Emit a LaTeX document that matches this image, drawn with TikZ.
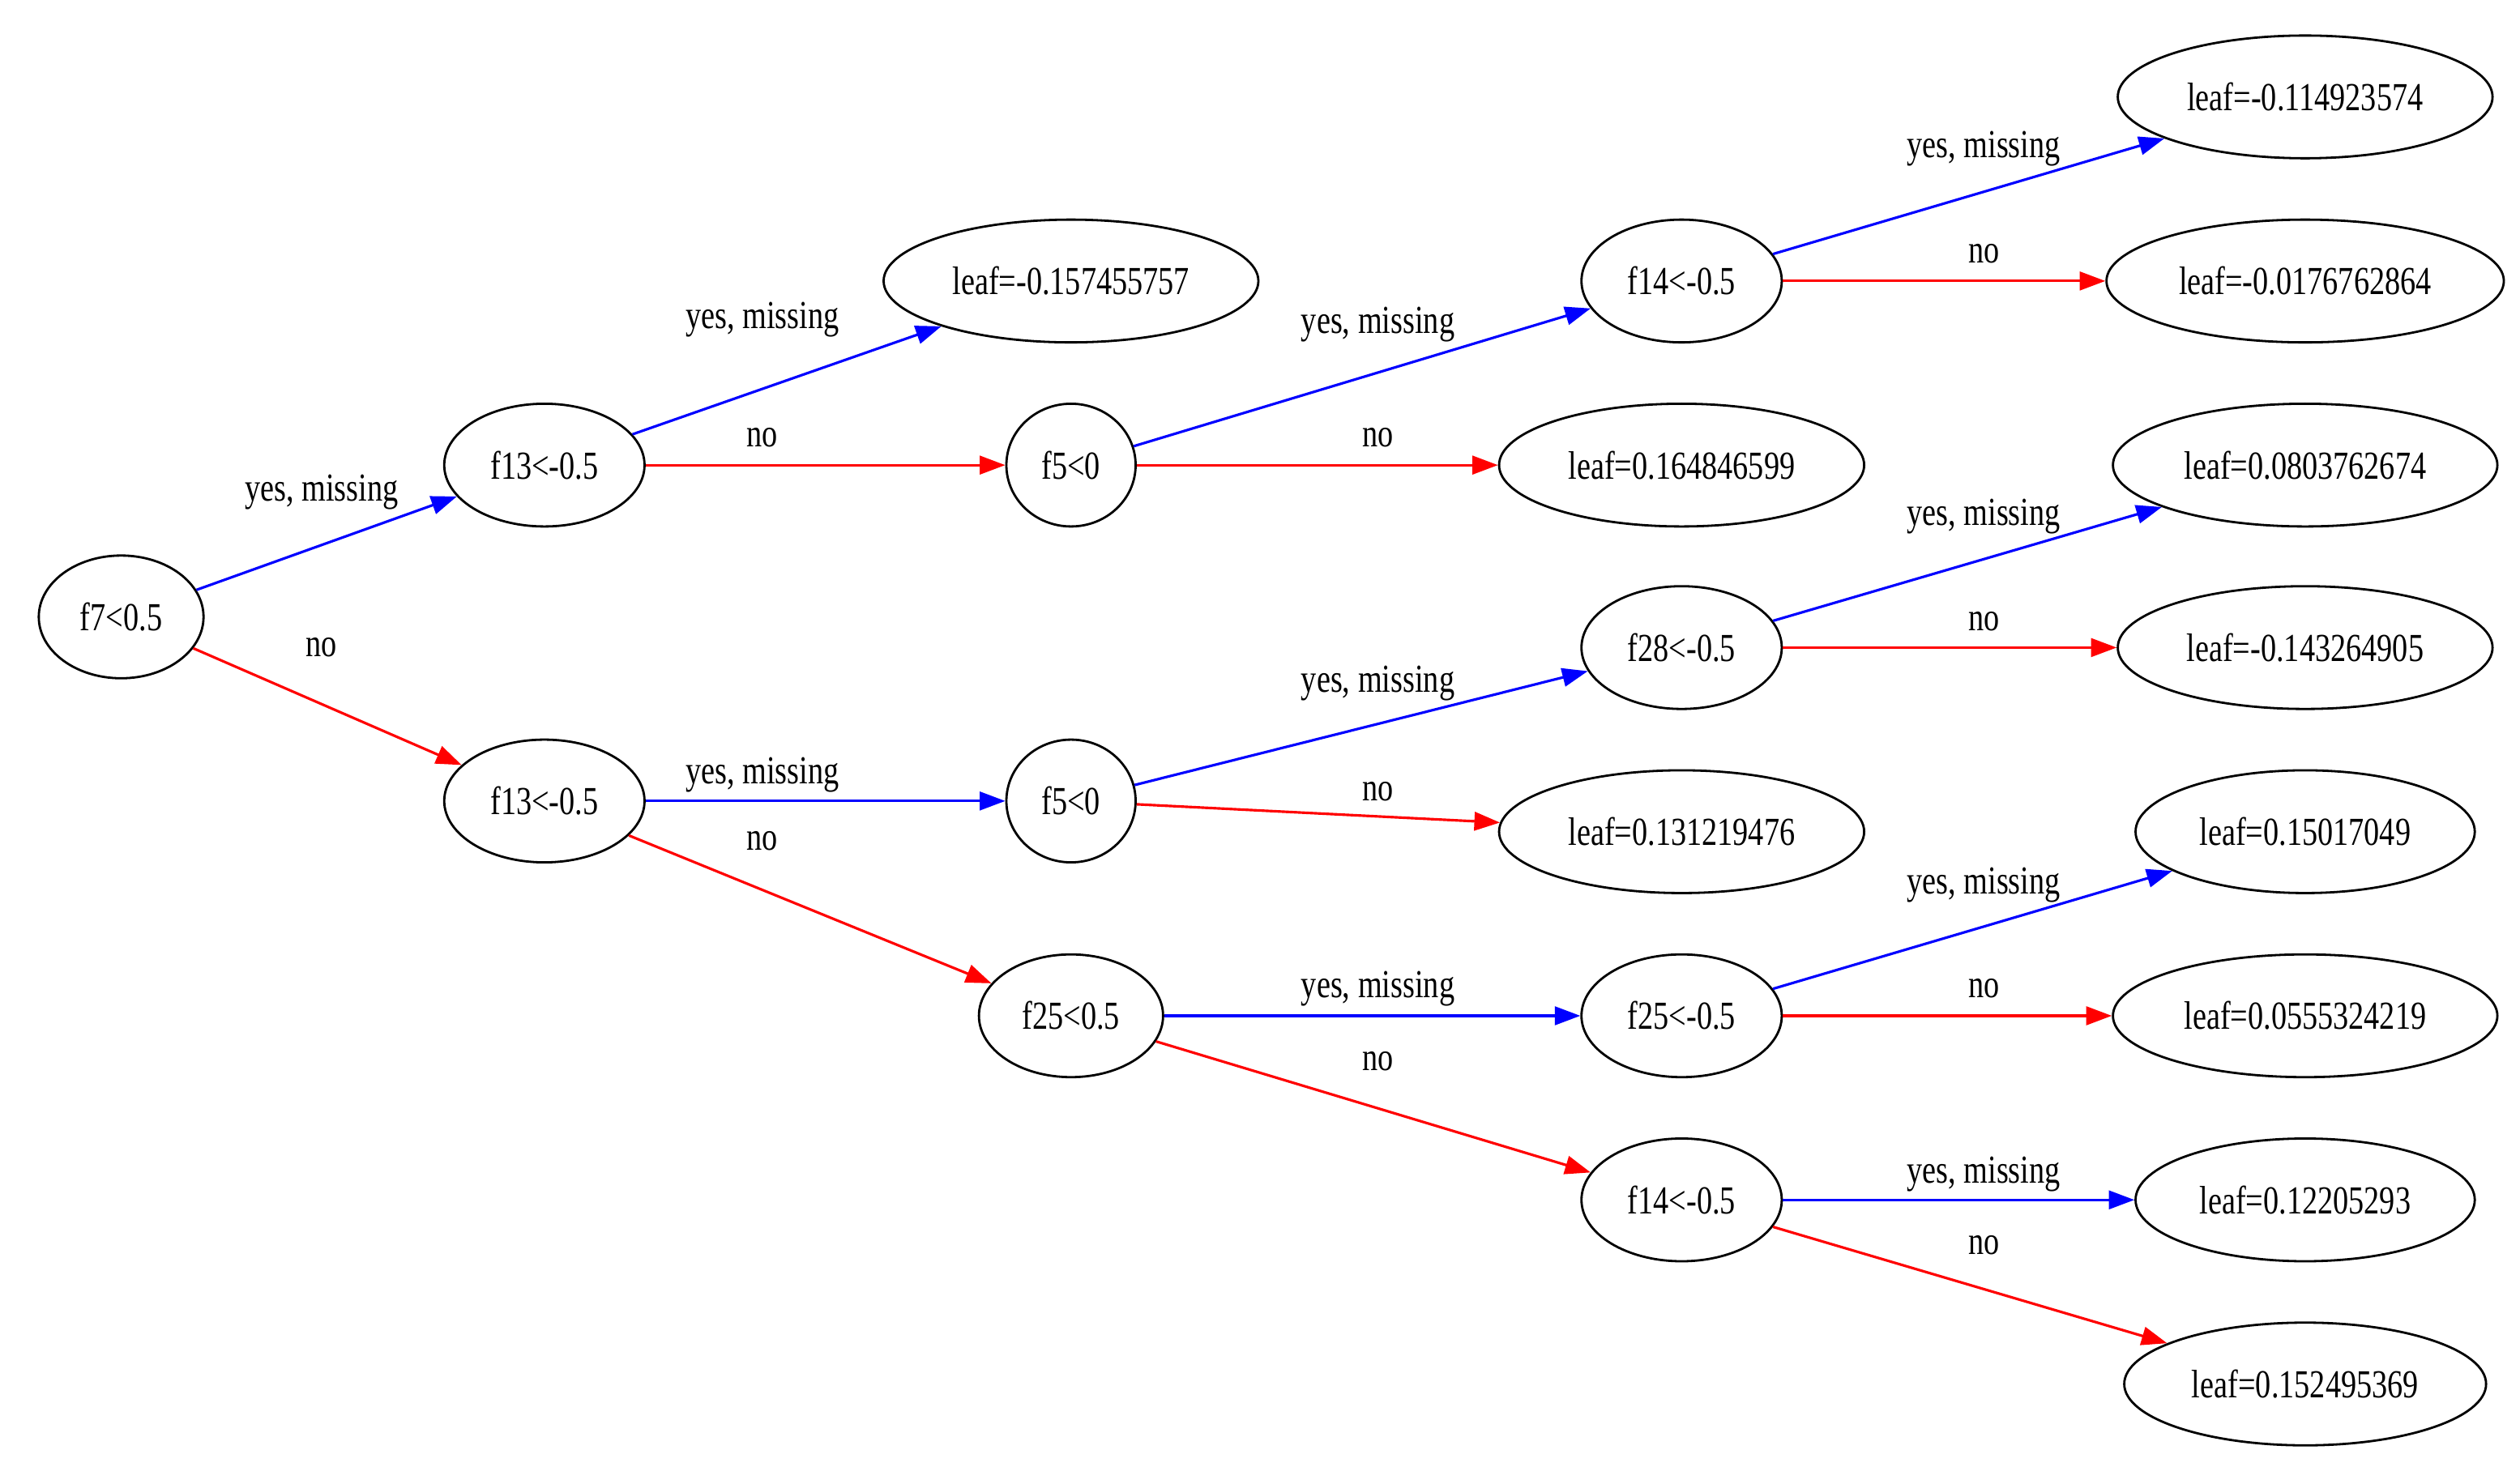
\documentclass[tikz,border=0pt]{standalone}
\usepackage{fontspec}
\setmainfont{Liberation Serif}[FakeStretch=0.78]
\usetikzlibrary{shapes.geometric,arrows.meta}
\begin{document}
\begin{tikzpicture}[x=0.04cm,y=-0.04cm,
 nd/.style={ellipse,draw,line width=1.6pt,minimum height=76*0.04cm,inner sep=0pt,font=\fontsize{28}{30}\selectfont},
 lb/.style={font=\fontsize{28}{30}\selectfont,inner sep=0pt},
 ye/.style={draw=blue,line width=1.8pt,-{Triangle[length=18pt,width=13pt]}},
 ne/.style={draw=red,line width=1.8pt,-{Triangle[length=18pt,width=13pt]}}]
\useasboundingbox (0,0) rectangle (1560,908);
\node[nd,minimum width=102*0.04cm] (r) at (75,382) {f7<0.5};
\node[nd,minimum width=124*0.04cm] (a) at (337,288) {f13<-0.5};
\node[nd,minimum width=124*0.04cm] (b) at (337,496) {f13<-0.5};
\node[nd,minimum width=232*0.04cm] (l1) at (663,174) {leaf=-0.157455757};
\node[nd,minimum width=80*0.04cm] (c) at (663,288) {f5<0};
\node[nd,minimum width=80*0.04cm] (d) at (663,496) {f5<0};
\node[nd,minimum width=114*0.04cm] (e) at (663,629) {f25<0.5};
\node[nd,minimum width=226*0.04cm] (l2) at (1041,288) {leaf=0.164846599};
\node[nd,minimum width=124*0.04cm] (f) at (1041,174) {f14<-0.5};
\node[nd,minimum width=124*0.04cm] (g) at (1041,401) {f28<-0.5};
\node[nd,minimum width=226*0.04cm] (l3) at (1041,515) {leaf=0.131219476};
\node[nd,minimum width=124*0.04cm] (h) at (1041,629) {f25<-0.5};
\node[nd,minimum width=124*0.04cm] (i) at (1041,743) {f14<-0.5};
\node[nd,minimum width=232*0.04cm] (m1) at (1427,60) {leaf=-0.114923574};
\node[nd,minimum width=246*0.04cm] (m2) at (1427,174) {leaf=-0.0176762864};
\node[nd,minimum width=238*0.04cm] (m3) at (1427,288) {leaf=0.0803762674};
\node[nd,minimum width=232*0.04cm] (m4) at (1427,401) {leaf=-0.143264905};
\node[nd,minimum width=210*0.04cm] (m5) at (1427,515) {leaf=0.15017049};
\node[nd,minimum width=238*0.04cm] (m6) at (1427,629) {leaf=0.0555324219};
\node[nd,minimum width=210*0.04cm] (m7) at (1427,743) {leaf=0.12205293};
\node[nd,minimum width=224*0.04cm] (m8) at (1427,857) {leaf=0.152495369};
\draw[ye] (r) -- (a); \draw[ne] (r) -- (b);
\draw[ye] (a) -- (l1); \draw[ne] (a) -- (c);
\draw[ye] (b) -- (d); \draw[ne] (b) -- (e);
\draw[ye] (c) -- (f); \draw[ne] (c) -- (l2);
\draw[ye] (d) -- (g); \draw[ne] (d) -- (l3);
\draw[ye] (e) -- (h); \draw[ne] (e) -- (i);
\draw[ye] (f) -- (m1); \draw[ne] (f) -- (m2);
\draw[ye] (g) -- (m3); \draw[ne] (g) -- (m4);
\draw[ye] (h) -- (m5); \draw[ne] (h) -- (m6);
\draw[ye] (i) -- (m7); \draw[ne] (i) -- (m8);
\foreach \x/\yy/\t in {199/305/{yes, missing},199/401/no,472/198/{yes, missing},472/271/no,472/480/{yes, missing},472/521/no,853/201/{yes, missing},853/271/no,853/423/{yes, missing},853/490/no,853/612/{yes, missing},853/657/no,1228/92/{yes, missing},1228/157/no,1228/320/{yes, missing},1228/385/no,1228/548/{yes, missing},1228/612/no,1228/727/{yes, missing},1228/771/no}
  \node[lb] at (\x,\yy) {\t};
\end{tikzpicture}
\end{document}
